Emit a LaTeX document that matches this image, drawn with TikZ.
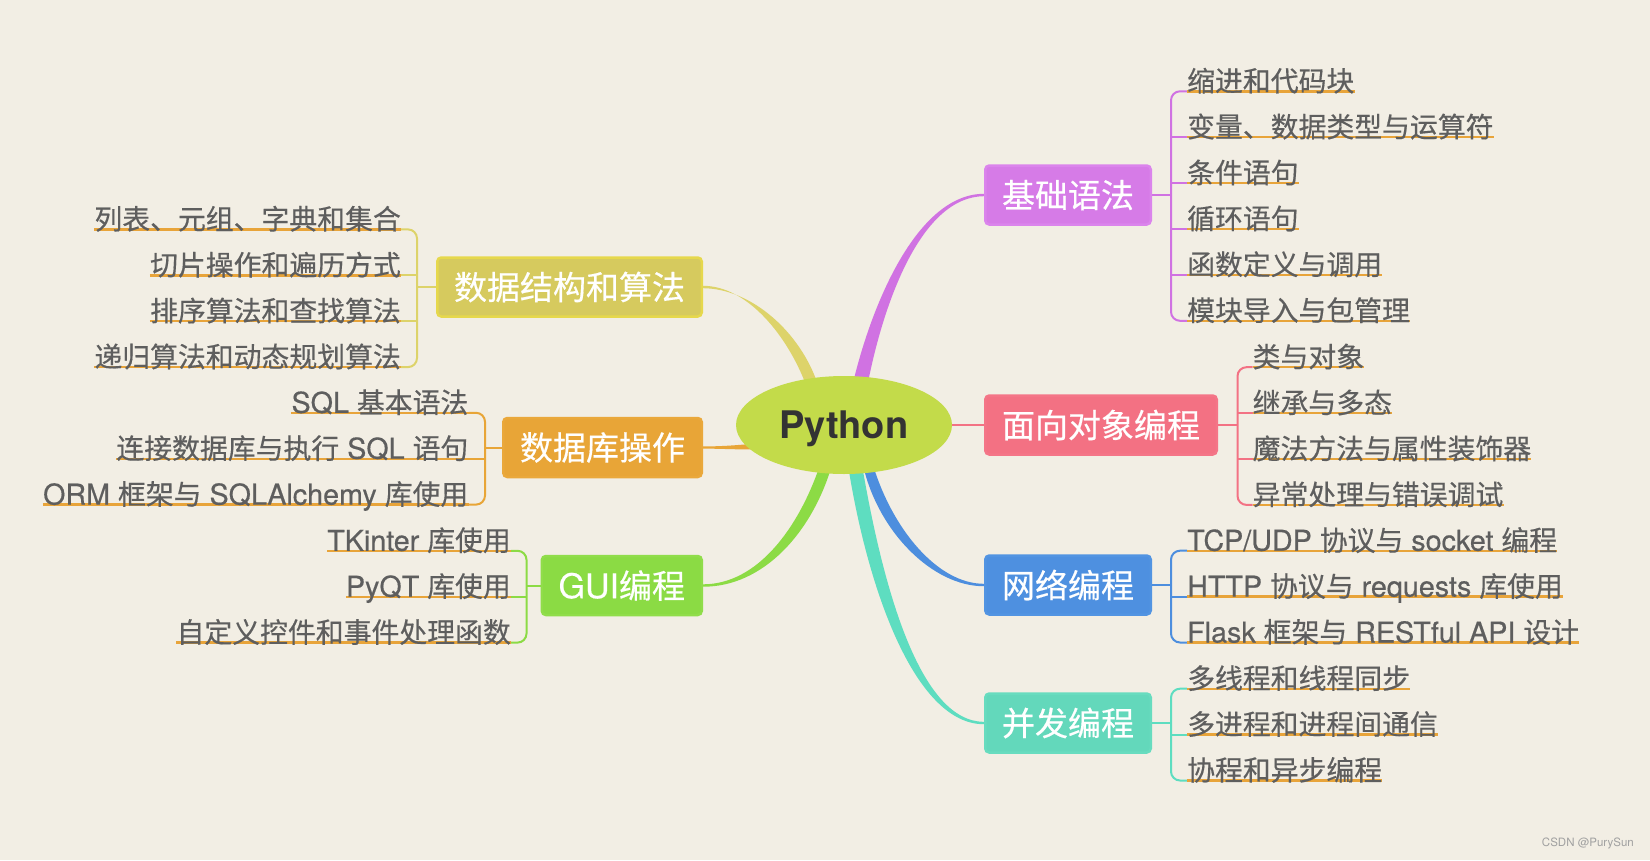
\documentclass[tikz,border=0pt]{standalone}
\usepackage{fontspec}
\setmainfont{Noto Sans CJK SC}[FakeBold=0.45]
\newfontfamily\lat{TeX Gyre Heros}[FakeBold=0.45,Scale=1.03]
\newfontfamily\latp{TeX Gyre Heros}
\usetikzlibrary{calc,shapes.geometric}
\pgfdeclarelayer{back}
\pgfdeclarelayer{conn}
\pgfsetlayers{back,conn,main}
\definecolor{bgc}{HTML}{F2EEE4}
\definecolor{pyc}{HTML}{C3DB4A}
\definecolor{pytxt}{HTML}{333333}
\definecolor{leaftxt}{HTML}{5E5E5E}
\definecolor{ulc}{HTML}{E8A43A}
\definecolor{Jf}{HTML}{D67BE7}\definecolor{Jd}{HTML}{DB84EC}\definecolor{Jc}{HTML}{D072E2}
\definecolor{Of}{HTML}{F37183}\definecolor{Od}{HTML}{F47587}\definecolor{Oc}{HTML}{F37284}
\definecolor{Nf}{HTML}{4E90E0}\definecolor{Nd}{HTML}{5294E2}\definecolor{Nc}{HTML}{4D8EDE}
\definecolor{Cf}{HTML}{63D8BB}\definecolor{Cd}{HTML}{68DCBF}\definecolor{Cc}{HTML}{5EDDC0}
\definecolor{Df}{HTML}{D6CA5E}\definecolor{Dd}{HTML}{E6D84C}\definecolor{Dc}{HTML}{DDD36A}
\definecolor{Bf}{HTML}{E8A537}\definecolor{Bd}{HTML}{EAA83B}\definecolor{Bc}{HTML}{E8A537}
\definecolor{Gf}{HTML}{8BDB44}\definecolor{Gd}{HTML}{90DD4A}\definecolor{Gc}{HTML}{8CDB45}
\definecolor{wm}{HTML}{A0A0A0}
\newcommand\leaffont{\fontsize{27.85pt}{32pt}\selectfont}
\newcommand\boxfont{\fontsize{33pt}{36pt}\selectfont}
\newcommand\pyfont{\fontsize{38pt}{40pt}\selectfont\latp\bfseries}
\tikzset{
  mbox/.style={rounded corners=4pt, line width=2.5pt, inner xsep=16.75pt, inner ysep=0pt,
    minimum height=59pt, text=white, font=\boxfont},
  leafR/.style={anchor=base west, inner sep=0pt, text=leaftxt, font=\leaffont},
  leafL/.style={anchor=base east, inner sep=0pt, text=leaftxt, font=\leaffont},
  ul/.style={draw=ulc, line width=2.4pt},
  br/.style={line width=2pt, rounded corners=9pt},
}
\begin{document}
\begin{tikzpicture}[x=1pt,y=-1pt]
\useasboundingbox (0,0) rectangle (1650,860);
\begin{pgfonlayer}{back}
\fill[bgc] (0,0) rectangle (1650,860);
\end{pgfonlayer}

% root
\node[ellipse, fill=pyc, minimum width=216pt, minimum height=98pt, inner sep=0pt,
      text=pytxt, font=\pyfont, text depth=0pt] (py) at (844,425) {Python};

% main topic boxes
\node[mbox, fill=Jf, draw=Jd, anchor=west] (J) at (984,195) {基础语法};
\node[mbox, fill=Of, draw=Od, anchor=west] (O) at (984,425) {面向对象编程};
\node[mbox, fill=Nf, draw=Nd, anchor=west] (N) at (984,585) {网络编程};
\node[mbox, fill=Cf, draw=Cd, anchor=west] (C) at (984,723) {并发编程};
\node[mbox, fill=Df, draw=Dd, anchor=east] (D) at (703,287) {数据结构和算法};
\node[mbox, fill=Bf, draw=Bd, anchor=east] (B) at (703,447.5) {数据库操作};
\node[mbox, fill=Gf, draw=Gd, anchor=east] (G) at (703,585.5) {{\lat GUI}编程};

% leaves
\node[leafR] (j1) at (1187,91.3) {缩进和代码块};
\node[leafR] (j2) at (1187,137.2) {变量、数据类型与运算符};
\node[leafR] (j3) at (1187,183.1) {条件语句};
\node[leafR] (j4) at (1187,229.0) {循环语句};
\node[leafR] (j5) at (1187,274.9) {函数定义与调用};
\node[leafR] (j6) at (1187,320.8) {模块导入与包管理};

\node[leafR] (o1) at (1252.5,367.2) {类与对象};
\node[leafR] (o2) at (1252.5,413.1) {继承与多态};
\node[leafR] (o3) at (1252.5,459.0) {魔法方法与属性装饰器};
\node[leafR] (o4) at (1252.5,504.9) {异常处理与错误调试};

\node[leafR] (n1) at (1187,550.7) {{\lat TCP/UDP }协议与{\lat{} socket }编程};
\node[leafR] (n2) at (1187,596.6) {{\lat HTTP }协议与{\lat{} requests }库使用};
\node[leafR] (n3) at (1187,642.5) {{\lat Flask }框架与{\lat{} RESTful API }设计};

\node[leafR] (c1) at (1187,688.7) {多线程和线程同步};
\node[leafR] (c2) at (1187,734.6) {多进程和进程间通信};
\node[leafR] (c3) at (1187,780.5) {协程和异步编程};

\node[leafL] (d1) at (401,229.4) {列表、元组、字典和集合};
\node[leafL] (d2) at (401,275.3) {切片操作和遍历方式};
\node[leafL] (d3) at (401,321.2) {排序算法和查找算法};
\node[leafL] (d4) at (401,367.1) {递归算法和动态规划算法};

\node[leafL] (b1) at (468.5,412.8) {{\lat SQL }基本语法};
\node[leafL] (b2) at (468.5,458.7) {连接数据库与执行{\lat{} SQL }语句};
\node[leafL] (b3) at (468.5,504.6) {{\lat ORM }框架与{\lat{} SQLAlchemy }库使用};

\node[leafL] (g1) at (511,550.8) {{\lat TKinter }库使用};
\node[leafL] (g2) at (511,596.7) {{\lat PyQT }库使用};
\node[leafL] (g3) at (511,642.6) {自定义控件和事件处理函数};

\node[text=wm, font=\fontsize{11.5pt}{13pt}\selectfont\latp, anchor=east, inner sep=0pt] (wmk) at (1634,843.3) {CSDN @PurySun};

% bracket junctions
\coordinate (jb) at (1171,195);
\coordinate (ob) at (1237.5,425);
\coordinate (nb) at (1171,585);
\coordinate (cb) at (1171,723);
\coordinate (db) at (417,287);
\coordinate (bb) at (485,447.5);
\coordinate (gb) at (526.5,585.5);

\begin{pgfonlayer}{conn}
% tapered branches from the root
\fill[Dc] ($(py.center)+(-38,-40)$) .. controls ($(py.center)+(-56,-88)$) and ($(D.east)+(45,-1.2)$) .. ($(D.east)+(0,-1.2)$)
  -- ($(D.east)+(0,1.2)$) .. controls ($(D.east)+(49,1.5)$) and ($(py.center)+(-43,-92)$) .. ($(py.center)+(-26,-40)$) -- cycle;
\fill[Jc] ($(py.center)+(8.5,-40)$) .. controls ($(py.center)+(28,-123)$) and ($(J.west)+(-66,-1.2)$) .. ($(J.west)+(0,-1.2)$)
  -- ($(J.west)+(0,1.2)$) .. controls ($(J.west)+(-62,1.5)$) and ($(py.center)+(40,-125)$) .. ($(py.center)+(23.5,-40)$) -- cycle;
\fill[Bc] ($(py.center)+(-89,18.5)$) .. controls ($(py.center)+(-109,20.5)$) and ($(B.east)+(15,-1)$) .. ($(B.east)+(0,-1.1)$)
  -- ($(B.east)+(0,1.1)$) .. controls ($(B.east)+(15,1.1)$) and ($(py.center)+(-109,24.5)$) .. ($(py.center)+(-89,24.5)$) -- cycle;
\fill[Gc] ($(py.center)+(-24,40)$) .. controls ($(py.center)+(-45,102)$) and ($(G.east)+(55,-1.2)$) .. ($(G.east)+(0,-1.2)$)
  -- ($(G.east)+(0,1.2)$) .. controls ($(G.east)+(60,1.5)$) and ($(py.center)+(-32,108)$) .. ($(py.center)+(-12,40)$) -- cycle;
\fill[Nc] ($(py.center)+(29,40)$) .. controls ($(py.center)+(48,103)$) and ($(N.west)+(-47,-1.2)$) .. ($(N.west)+(0,-1.2)$)
  -- ($(N.west)+(0,1.2)$) .. controls ($(N.west)+(-51,1.5)$) and ($(py.center)+(34,107)$) .. ($(py.center)+(19,40)$) -- cycle;
\fill[Cc] ($(py.center)+(18,40)$) .. controls ($(py.center)+(39,163)$) and ($(C.west)+(-64,-1.2)$) .. ($(C.west)+(0,-1.2)$)
  -- ($(C.west)+(0,1.2)$) .. controls ($(C.west)+(-68,1.5)$) and ($(py.center)+(24,167)$) .. ($(py.center)+(4,40)$) -- cycle;
\draw[Oc, line width=2.2pt] (py.east) -- (O.west);

% brackets
\draw[br, draw=Jc] (J.east) -- (jb);
\draw[br, draw=Jc] (j1.base west) -| (jb) |- (j6.base west);
\foreach \k in {j2,j3,j4,j5} \draw[br, draw=Jc] (jb |- \k.base west) -- (\k.base west);

\draw[br, draw=Oc] (O.east) -- (ob);
\draw[br, draw=Oc] (o1.base west) -| (ob) |- (o4.base west);
\foreach \k in {o2,o3} \draw[br, draw=Oc] (ob |- \k.base west) -- (\k.base west);

\draw[br, draw=Nc] (N.east) -- (nb);
\draw[br, draw=Nc] (n1.base west) -| (nb) |- (n3.base west);
\draw[br, draw=Nc] (nb |- n2.base west) -- (n2.base west);

\draw[br, draw=Cc] (C.east) -- (cb);
\draw[br, draw=Cc] (c1.base west) -| (cb) |- (c3.base west);
\draw[br, draw=Cc] (cb |- c2.base west) -- (c2.base west);

\draw[br, draw=Dc] (D.west) -- (db);
\draw[br, draw=Dc] (d1.base east) -| (db) |- (d4.base east);
\foreach \k in {d2,d3} \draw[br, draw=Dc] (db |- \k.base east) -- (\k.base east);

\draw[br, draw=Bc] (B.west) -- (bb);
\draw[br, draw=Bc] (b1.base east) -| (bb) |- (b3.base east);
\draw[br, draw=Bc] (bb |- b2.base east) -- (b2.base east);

\draw[br, draw=Gc] (G.west) -- (gb);
\draw[br, draw=Gc] (g1.base east) -| (gb) |- (g3.base east);
\draw[br, draw=Gc] (gb |- g2.base east) -- (g2.base east);

% underlines
\foreach \k in {j1,j2,j3,j4,j5,j6,o1,o2,o3,o4,n1,n2,n3,c1,c2,c3,d1,d2,d3,d4,b1,b2,b3,g1,g2,g3}
  \draw[ul] (\k.base west) -- (\k.base east);
\end{pgfonlayer}
\end{tikzpicture}
\end{document}
